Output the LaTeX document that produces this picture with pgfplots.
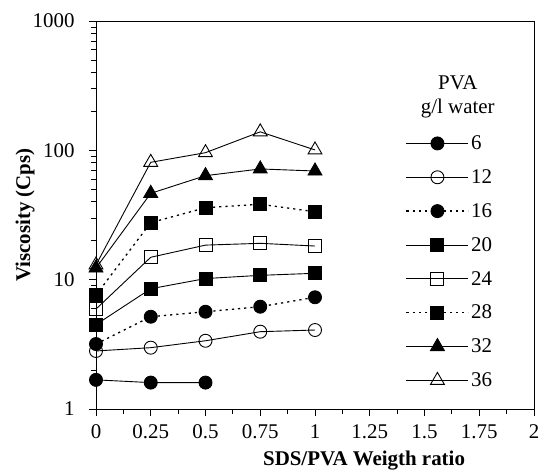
\documentclass[border=0pt]{standalone}
\usepackage{fontspec}
\setmainfont{Liberation Serif}
\usepackage{pgfplots}
\pgfplotsset{compat=1.18}
\begin{document}
\begin{tikzpicture}
\begin{axis}[
  at={(0,0)}, anchor=south west,
  scale only axis, width=438bp, height=388bp,
  ymode=log, xmin=0, xmax=2, ymin=1, ymax=1000,
  xtick={0,0.25,0.5,0.75,1,1.25,1.5,1.75,2},
  xticklabels={0,0.25,0.5,0.75,1,1.25,1.5,1.75,2},
  minor x tick num=1,
  ytick={1,10,100,1000}, yticklabels={1,10,100,1000},
  tick align=outside, xtick pos=left, ytick pos=left,
  major tick length=7bp, minor tick length=5bp,
  every tick/.style={black, line width=0.8bp},
  axis line style={line width=0.9bp},
  tick label style={font=\fontsize{21}{24}\selectfont},
  xticklabel style={yshift=-5bp},
  yticklabel style={xshift=-11bp},
  /pgf/number format/assume math mode=true,
  xlabel={\textbf{SDS/PVA Weigth ratio}},
  ylabel={\textbf{Viscosity (Cps)}},
  label style={font=\fontsize{21}{24}\selectfont},
  xlabel style={at={(axis description cs:0.612,-0.134)}, anchor=center},
  ylabel style={at={(axis description cs:-0.162,0.5)}, anchor=center},
  clip=false,
  every axis plot/.append style={black, line width=0.9bp},
  legend image code/.code={\draw[mark repeat=2,mark phase=2] plot coordinates {(0bp,0bp) (31bp,0bp) (62bp,0bp)};},
  legend style={at={(rel axis cs:0.70,0.715)}, anchor=north west, draw=none, fill=none,
    font=\fontsize{21}{24}\selectfont, row sep=14.5bp, cells={anchor=west}},
  legend cell align=left,
]
\addplot[mark=*, mark size=6.5bp] coordinates {(0,1.68) (0.25,1.60) (0.5,1.60)};
\addplot[mark=o, mark size=6.5bp, mark options={fill=white}] coordinates {(0,2.81) (0.25,2.98) (0.5,3.37) (0.75,3.96) (1,4.08)};
\addplot[mark=*, mark size=6.5bp, line width=1.3bp, dash pattern=on 2.2bp off 4bp, mark options={solid, line width=0.9bp}] coordinates {(0,3.18) (0.25,5.17) (0.5,5.65) (0.75,6.18) (1,7.31)};
\addplot[mark=square*, mark size=6.5bp] coordinates {(0,4.49) (0.25,8.51) (0.5,10.2) (0.75,10.8) (1,11.2)};
\addplot[mark=square, mark size=6.5bp, mark options={fill=white}] coordinates {(0,5.93) (0.25,14.9) (0.5,18.5) (0.75,19.1) (1,18.2)};
\addplot[mark=square*, mark size=6.5bp, line width=1.3bp, dash pattern=on 2.2bp off 4bp, mark options={solid, line width=0.9bp}] coordinates {(0,7.61) (0.25,27.6) (0.5,36.0) (0.75,38.3) (1,33.5)};
\addplot[mark=triangle*, mark size=8bp] coordinates {(0,12.3) (0.25,46.5) (0.5,63.7) (0.75,71.8) (1,69.2)};
\addplot[mark=triangle, mark size=8bp, mark options={fill=white}] coordinates {(0,13.0) (0.25,80.8) (0.5,95.9) (0.75,139) (1,100.7)};
\legend{6,12,16,20,24,28,32,36}
\node[align=center, font=\fontsize{21}{24}\selectfont] at (rel axis cs:0.826,0.805) {PVA\\g/l water};
\end{axis}
\pgfresetboundingbox
\useasboundingbox (-96bp,-64bp) rectangle (445bp,409bp);
\end{tikzpicture}
\end{document}
